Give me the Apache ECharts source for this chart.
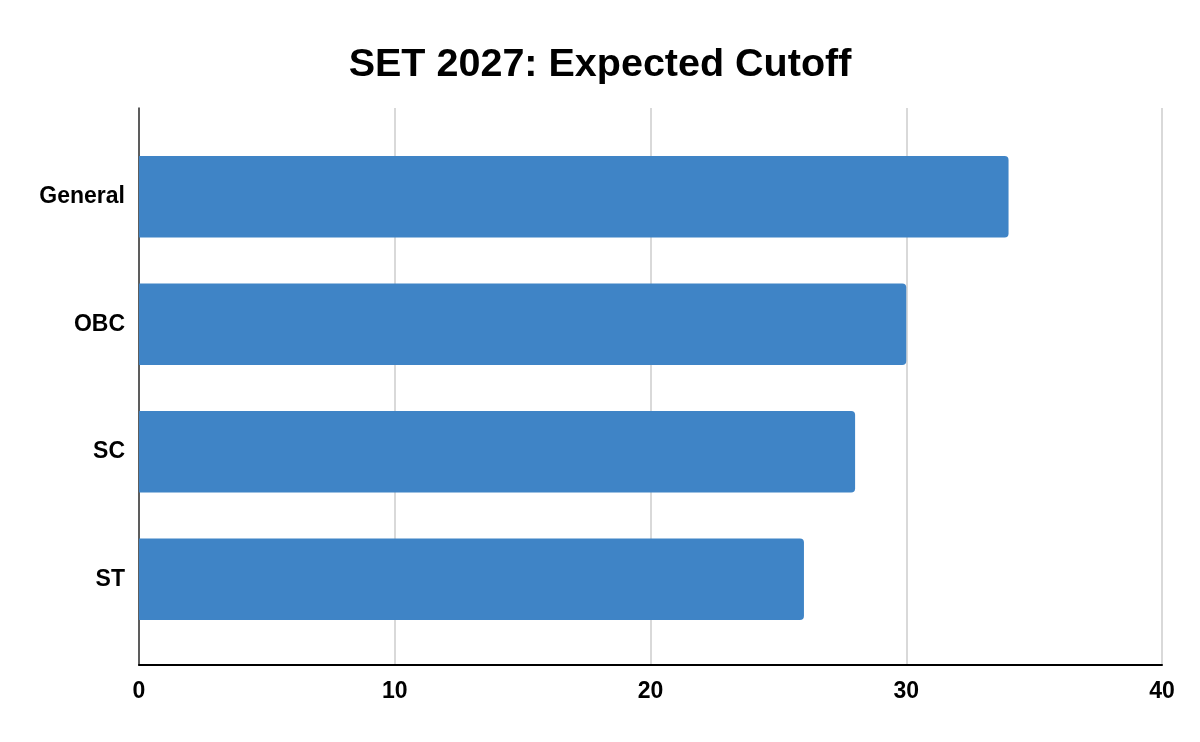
<!DOCTYPE html>
<html><head><meta charset="utf-8">
<script src="https://cdn.jsdelivr.net/npm/echarts@6/dist/echarts.min.js"></script>
<style>html,body{margin:0;padding:0;background:#fff}#c{width:1200px;height:742px}</style>
</head><body><div id="c"></div>
<script>
const categories = ['General', 'OBC', 'SC', 'ST'];
const cutoffValues = [34, 30, 28, 26];
const xTicks = [0, 10, 20, 30, 40];

const FONT = 'Liberation Sans, Arial, sans-serif';
const chart = echarts.init(document.getElementById('c'), null, {renderer: 'canvas'});
chart.setOption({
  backgroundColor: '#fff',
  animation: false,
  title: {
    text: 'SET 2027: Expected Cutoff',
    left: 'center', top: 40,
    textStyle: {fontFamily: FONT, fontSize: 39.5, fontWeight: 'bold', color: '#000'}
  },
  grid: [
    {left: 139, right: 38, top: 108, bottom: 77, containLabel: false},
    {left: 139, right: 38, top: 133, bottom: 99, containLabel: false}
  ],
  xAxis: [
    {
      gridIndex: 0, type: 'value', min: xTicks[0], max: xTicks[xTicks.length - 1], interval: 10,
      axisLine: {show: true, lineStyle: {color: '#000', width: 2}},
      axisTick: {show: false},
      splitLine: {show: true, lineStyle: {color: '#cccccc', width: 1.5}},
      axisLabel: {margin: 15, color: '#000', fontFamily: FONT, fontSize: 23, fontWeight: 'bold'}
    },
    {
      gridIndex: 1, type: 'value', min: xTicks[0], max: xTicks[xTicks.length - 1], interval: 10,
      show: false
    }
  ],
  yAxis: [
    {
      gridIndex: 0, type: 'value', min: 0, max: 1,
      axisLine: {show: true, lineStyle: {color: '#333', width: 1.5}},
      axisTick: {show: false}, axisLabel: {show: false}, splitLine: {show: false}
    },
    {
      gridIndex: 1, type: 'category', data: categories, inverse: true,
      axisLine: {show: false},
      axisTick: {show: false},
      axisLabel: {margin: 14, color: '#000', fontFamily: FONT, fontSize: 23, fontWeight: 'bold'}
    }
  ],
  series: [{
    type: 'bar', xAxisIndex: 1, yAxisIndex: 1, data: cutoffValues,
    barCategoryGap: '36%',
    itemStyle: {color: '#3f84c6', borderRadius: [0, 4, 4, 0]}
  }]
});
</script></body></html>
